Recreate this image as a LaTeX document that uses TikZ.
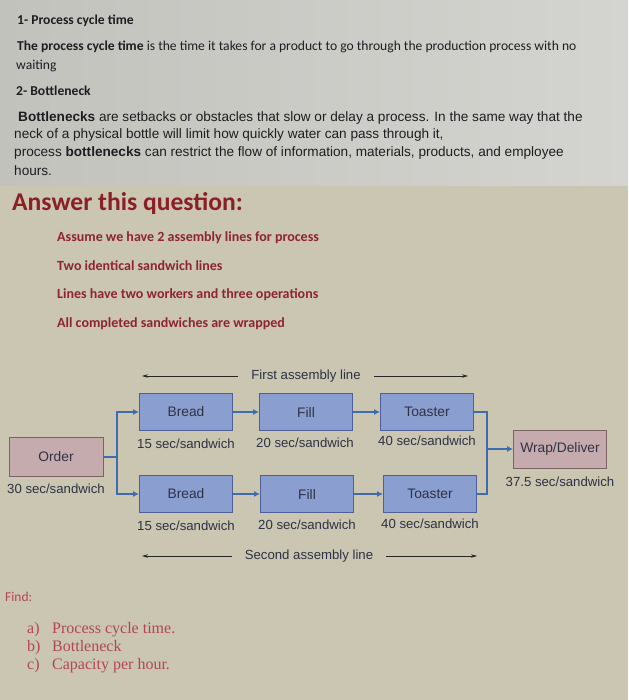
\documentclass[tikz,border=0pt]{standalone}
\usepackage{fontspec}
\setmainfont{Liberation Sans}
\newfontfamily\calfont{Carlito}
\newfontfamily\serfont{Liberation Serif}
\usetikzlibrary{arrows.meta, positioning}
\definecolor{topbg}{HTML}{D4D4D0}
\definecolor{topbgdark}{HTML}{C2C2BD}
\definecolor{lowbg}{HTML}{CAC6B1}
\definecolor{inkdark}{HTML}{1E1E22}
\definecolor{redtitle}{HTML}{8A1F26}
\definecolor{reditem}{HTML}{8E2432}
\definecolor{redsoft}{HTML}{B24655}
\definecolor{opfill}{HTML}{8B9ED0}
\definecolor{opline}{HTML}{4E5F9A}
\definecolor{endfill}{HTML}{C6ABAE}
\definecolor{endline}{HTML}{7C6265}
\definecolor{flowblue}{HTML}{3F6CB0}
\definecolor{diagtxt}{HTML}{2E3244}
\tikzset{
  notetxt/.style = {anchor=west, inner sep=0pt, text=inkdark,
                    font=\calfont\fontsize{13.6}{15}\selectfont},
  paratxt/.style = {anchor=west, inner sep=0pt, text=inkdark,
                    font=\fontsize{13.6}{15}\selectfont},
  asktxt/.style  = {anchor=west, inner sep=0pt, text=reditem,
                    font=\calfont\bfseries\fontsize{14}{16}\selectfont},
  findtxt/.style = {anchor=west, inner sep=0pt, text=redsoft,
                    font=\serfont\fontsize{16}{18}\selectfont},
  opbox/.style   = {rectangle, draw=opline, fill=opfill, line width=0.9pt,
                    minimum width=93pt, minimum height=37pt, text=diagtxt,
                    font=\fontsize{13.8}{15}\selectfont},
  endbox/.style  = {rectangle, draw=endline, fill=endfill, line width=0.9pt,
                    minimum width=94pt, minimum height=39pt, text=diagtxt,
                    font=\fontsize{13.8}{15}\selectfont},
  rate/.style    = {inner sep=0pt, text=diagtxt, font=\fontsize{13.2}{15}\selectfont},
  linename/.style= {inner xsep=13pt, inner ysep=0pt, text=diagtxt,
                    font=\fontsize{13.2}{15}\selectfont},
  link/.style    = {draw=flowblue, line width=1.5pt},
  flow/.style    = {link, -{Latex[length=6pt,width=6pt]}},
  span/.style    = {draw=black!85, line width=0.7pt, -{Stealth[length=6pt,width=3.5pt]}},
}
\begin{document}
\begin{tikzpicture}[x=1pt, y=-1pt]
    \useasboundingbox (0,0) rectangle (628,700);
    % photo backdrop
    \shade[left color=topbgdark, right color=topbg] (0,0) rectangle (628,186);
    \fill[lowbg] (0,186) rectangle (628,700);

    % definitions
    \node[notetxt, font=\calfont\bfseries\fontsize{13.6}{15}\selectfont] (h1) at (17,21) {1- Process cycle time};
    \node[notetxt] (p1)  at (17,47) {\textbf{The process cycle time} is the time it takes for a product to go through the production process with no};
    \node[notetxt] (p1b) at (16,66) {waiting};
    \node[notetxt, font=\calfont\bfseries\fontsize{13.6}{15}\selectfont] (h2) at (16,91) {2- Bottleneck};
    \node[paratxt] (p2)  at (18,118) {\textbf{Bottlenecks} are setbacks or obstacles that slow or delay a process. In the same way that the};
    \node[paratxt] (p2b) at (14,135) {neck of a physical bottle will limit how quickly water can pass through it,};
    \node[paratxt] (p2c) at (14,153) {process \textbf{bottlenecks} can restrict the flow of information, materials, products, and employee};
    \node[paratxt] (p2d) at (14,171) {hours.};

    % question
    \node[anchor=west, inner sep=0pt, text=redtitle,
          font=\calfont\bfseries\fontsize{25.6}{30}\selectfont] (ask) at (12,204) {Answer this question:};
    \node[asktxt] (a1) at (57,238) {Assume we have 2 assembly lines for process};
    \node[asktxt] (a2) at (57,266) {Two identical sandwich lines};
    \node[asktxt] (a3) at (57,295) {Lines have two workers and three operations};
    \node[asktxt] (a4) at (57,324) {All completed sandwiches are wrapped};

    % assembly lines
    \node[linename] (line1) at (306,376) {First assembly line};
    \coordinate (l1L) at (142,376);
    \coordinate (l1R) at (468,376);
    \draw[span] (line1.west) -- (l1L);
    \draw[span] (line1.east) -- (l1R);

    \node[endbox] (order) at (56,457) {Order};
    \node[opbox] (bread1) at (186,412) {Bread};
    \node[opbox] (fill1)  at (306,412) {Fill};
    \node[opbox] (toast1) at (427,412) {Toaster};
    \node[opbox] (bread2) at (186,494) {Bread};
    \node[opbox] (fill2)  at (307,494) {Fill};
    \node[opbox] (toast2) at (430,494) {Toaster};
    \node[endbox, minimum width=93pt, minimum height=38pt] (wrap) at (560,449) {Wrap/Deliver};

    \node[rate] (r15a) at (186,444) {15 sec/sandwich};
    \node[rate] (r20a) at (305,443) {20 sec/sandwich};
    \node[rate] (r40a) at (427,441) {40 sec/sandwich};
    \node[rate] (r30)  at (56,489)  {30 sec/sandwich};
    \node[rate] (r15b) at (186,526) {15 sec/sandwich};
    \node[rate] (r20b) at (307,525) {20 sec/sandwich};
    \node[rate] (r40b) at (430,524) {40 sec/sandwich};
    \node[rate] (r375) at (560,482) {37.5 sec/sandwich};

    \coordinate (jL) at (117,457);
    \coordinate (jR) at (487,449);
    \draw[link] (order.east) -- (jL);
    \draw[flow] (jL) |- (bread1.west);
    \draw[flow] (jL) |- (bread2.west);
    \draw[flow] (bread1) -- (fill1);
    \draw[flow] (fill1) -- (toast1);
    \draw[flow] (bread2) -- (fill2);
    \draw[flow] (fill2) -- (toast2);
    \draw[link] (toast1.east) -| (jR);
    \draw[link] (toast2.east) -| (jR);
    \draw[flow] (jR) -- (wrap.west);

    \node[linename] (line2) at (309,556) {Second assembly line};
    \coordinate (l2L) at (142,556);
    \coordinate (l2R) at (477,556);
    \draw[span] (line2.west) -- (l2L);
    \draw[span] (line2.east) -- (l2R);

    % find
    \node[anchor=west, inner sep=0pt, text=redsoft,
          font=\calfont\fontsize{13.5}{15}\selectfont] (find) at (5,597) {Find:};
    \node[findtxt] (qa) at (27,630) {\makebox[25pt][l]{a)}Process cycle time.};
    \node[findtxt] (qb) at (27,648) {\makebox[25pt][l]{b)}Bottleneck};
    \node[findtxt] (qc) at (27,666) {\makebox[25pt][l]{c)}Capacity per hour.};
\end{tikzpicture}
\end{document}
